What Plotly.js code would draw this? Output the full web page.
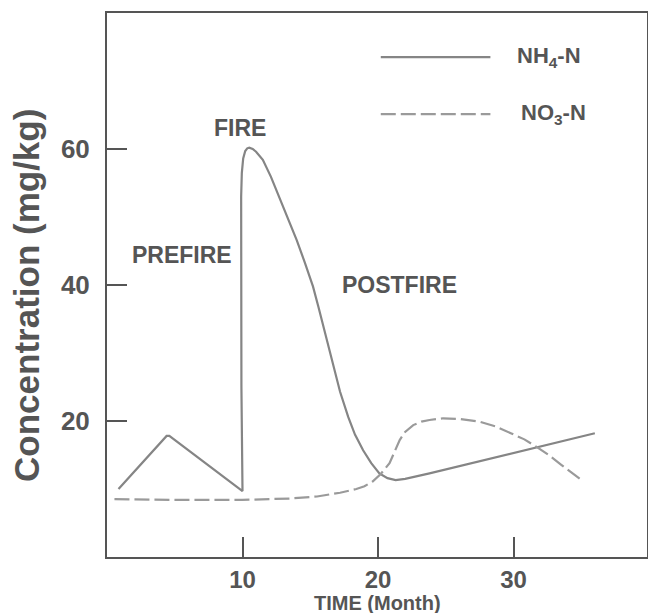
<!DOCTYPE html>
<html>
<head>
<meta charset="utf-8">
<script src="https://cdn.plot.ly/plotly-3.0.1.min.js"></script>
<style>html,body{margin:0;padding:0;background:#fff;}#chart{width:648px;height:613px;}</style>
</head>
<body>
<div id="chart"></div>
<script>
// NH4-N (solid)
const nh4Month = [0.85, 4.4, 4.6, 10.0, 9.92, 9.88, 9.9, 9.95, 10.05, 10.2, 10.35, 10.5, 10.75, 11.0, 11.5, 12.1, 12.7, 13.3, 14.0, 14.6, 15.2, 15.6, 16.0, 16.4, 16.7, 17.2, 17.8, 18.3, 18.9, 19.5, 20.1, 20.7, 21.3, 22.0, 23.8, 36.0];
const nh4Conc  = [10.0, 17.8, 17.8, 9.7, 25.0, 45.0, 53.0, 56.5, 58.6, 59.7, 60.1, 60.2, 60.0, 59.6, 58.4, 55.9, 53.0, 49.9, 46.6, 43.3, 39.8, 36.8, 33.6, 30.6, 28.0, 24.3, 20.6, 18.0, 15.7, 13.8, 12.3, 11.6, 11.3, 11.5, 12.3, 18.2];
// NO3-N (dashed)
const no3Month = [0.55, 5.0, 10.0, 13.5, 15.5, 17.2, 18.4, 19.0, 19.6, 20.2, 20.85, 21.2, 21.6, 22.0, 22.6, 23.2, 23.8, 24.8, 26.0, 27.5, 28.7, 29.8, 30.8, 31.7, 32.6, 33.5, 34.9];
const no3Conc  = [8.5, 8.4, 8.4, 8.6, 8.9, 9.45, 10.0, 10.4, 11.1, 12.2, 13.8, 15.5, 17.2, 18.4, 19.4, 19.9, 20.15, 20.4, 20.3, 19.9, 19.2, 18.2, 17.3, 16.2, 15.0, 13.6, 11.5];

const xTicks = [10, 20, 30];
const yTicks = [20, 40, 60];
const seriesNames = ["NH<sub>4</sub>-N", "NO<sub>3</sub>-N"];
const phaseLabels = ["PREFIRE", "FIRE", "POSTFIRE"];
const phaseX = [5.5, 9.8, 21.6];
const phaseY = [44.4, 63.1, 40.0];

const txt = "#555555";
const font = "Liberation Sans, Arial, sans-serif";
const dashPat = "15px,5px";

const traces = [
  {x: nh4Month, y: nh4Conc, mode: "lines", name: "NH4-N",
   line: {color: "#858585", width: 2.2}, hoverinfo: "x+y"},
  {x: no3Month, y: no3Conc, mode: "lines", name: "NO3-N",
   line: {color: "#9a9a9a", width: 2.2, dash: dashPat}, hoverinfo: "x+y"}
];

const annotations = phaseLabels.map((t, i) => ({
  x: phaseX[i], y: phaseY[i], xref: "x", yref: "y", text: t, showarrow: false,
  font: {family: font, size: 23, color: txt, weight: "bold"}
}));
annotations.push(
  {x: -0.148, y: 0.48, xref: "paper", yref: "paper", text: "Concentration (mg/kg)", textangle: -90,
   showarrow: false, xanchor: "center", yanchor: "middle",
   font: {family: font, size: 35, color: txt, weight: "bold"}},
  {x: 0.5, y: -0.085, xref: "paper", yref: "paper", text: "TIME (Month)", showarrow: false,
   xanchor: "center", yanchor: "middle",
   font: {family: font, size: 20, color: txt, weight: "bold"}},
  {x: 0.755, y: 0.919, xref: "paper", yref: "paper", text: seriesNames[0], showarrow: false,
   xanchor: "left", yanchor: "middle",
   font: {family: font, size: 22, color: txt, weight: "bold"}},
  {x: 0.763, y: 0.814, xref: "paper", yref: "paper", text: seriesNames[1], showarrow: false,
   xanchor: "left", yanchor: "middle",
   font: {family: font, size: 22, color: txt, weight: "bold"}}
);

const shapes = [
  {type: "line", xref: "paper", yref: "paper", x0: 0.507, x1: 0.710, y0: 0.919, y1: 0.919,
   line: {color: "#858585", width: 2.2}},
  {type: "line", xref: "paper", yref: "paper", x0: 0.507, x1: 0.710, y0: 0.814, y1: 0.814,
   line: {color: "#9a9a9a", width: 2.2, dash: dashPat}}
];

const layout = {
  width: 648, height: 613,
  margin: {l: 107, r: 1, t: 13, b: 56},
  paper_bgcolor: "#ffffff", plot_bgcolor: "#ffffff",
  showlegend: false,
  xaxis: {range: [0, 39.85], tickvals: xTicks, ticks: "inside", ticklen: 20, tickwidth: 2,
          tickcolor: "#555", showline: true, linecolor: "#555", linewidth: 2, mirror: true,
          showgrid: false, zeroline: false,
          tickfont: {family: font, size: 24, color: txt, weight: "bold"}},
  yaxis: {range: [0, 80], tickvals: yTicks, ticks: "inside", ticklen: 20, tickwidth: 2,
          tickcolor: "#555", showline: true, linecolor: "#555", linewidth: 2, mirror: true,
          showgrid: false, zeroline: false, ticklabelstandoff: 10,
          tickfont: {family: font, size: 26, color: txt, weight: "bold"}},
  annotations: annotations,
  shapes: shapes
};

Plotly.newPlot("chart", traces, layout, {displayModeBar: false, staticPlot: true});
</script>
</body>
</html>
